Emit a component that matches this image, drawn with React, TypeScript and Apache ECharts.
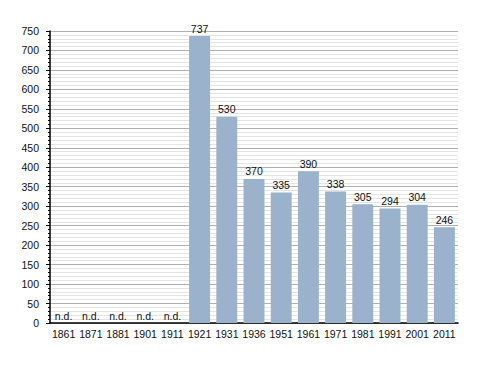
import React, { useEffect, useRef } from "react";
import * as echarts from "echarts";

const years = ["1861", "1871", "1881", "1901", "1911", "1921", "1931", "1936", "1951", "1961", "1971", "1981", "1991", "2001", "2011"];
const population: (number | null)[] = [null, null, null, null, null, 737, 530, 370, 335, 390, 338, 305, 294, 304, 246];
const noDataLabel = "n.d.";

export default function App() {
  const ref = useRef<HTMLDivElement>(null);
  useEffect(() => {
    const chart = echarts.init(ref.current!, null, { renderer: "svg" });
    const font = "'Liberation Sans', Arial, sans-serif";
    chart.setOption({
      animation: false,
      grid: { left: 50, right: 30, top: 31, bottom: 50 },
      xAxis: {
        type: "category",
        data: years,
        axisLine: { show: true, lineStyle: { color: "#000", width: 1.5 } },
        axisTick: { show: false },
        axisLabel: { color: "#111", fontSize: 10.5, fontFamily: font, margin: 5, interval: 0 },
      },
      yAxis: {
        type: "value",
        min: 0,
        max: 750,
        interval: 50,
        axisLine: { show: true, lineStyle: { color: "#000", width: 1.5 } },
        axisTick: { show: true, inside: false, length: 4, lineStyle: { color: "#000" } },
        minorTick: { show: true, splitNumber: 5, length: 2, lineStyle: { color: "#000" } },
        splitLine: { show: true, lineStyle: { color: "#b0b0b0", width: 1 } },
        minorSplitLine: { show: true, lineStyle: { color: "#e4e4e4", width: 1 } },
        axisLabel: { color: "#111", fontSize: 10.5, fontFamily: font, margin: 11 },
      },
      series: [
        {
          type: "bar",
          data: population.map((v) => (v === null ? 0 : v)),
          barCategoryGap: "23%",
          itemStyle: { color: "#9ab2cc" },
          label: {
            show: true,
            position: "top",
            distance: 2,
            color: "#111",
            fontSize: 10.5,
            fontFamily: font,
            formatter: (p: any) => (population[p.dataIndex] === null ? noDataLabel : String(p.value)),
          },
        },
      ],
    });
    return () => chart.dispose();
  }, []);
  return <div ref={ref} style={{ position: "absolute", left: 0, top: 0, width: 488, height: 373 }} />;
}
